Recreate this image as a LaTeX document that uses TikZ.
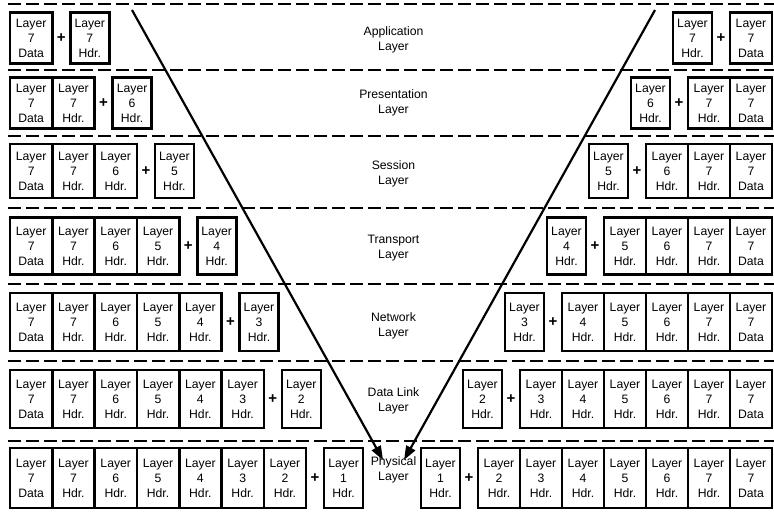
\documentclass[tikz,border=0pt]{standalone}
\usepackage{fontspec}
\setmainfont{Liberation Sans}
\usetikzlibrary{arrows.meta}
\begin{document}
\begin{tikzpicture}[x=1pt,y=-1pt,
  pdu/.style={draw, line width=2.6pt, inner sep=0pt, align=center,
    font=\fontsize{12.2}{15}\selectfont, minimum height=#1},
  plussign/.style={inner sep=0pt, font=\fontsize{15}{15}\selectfont\bfseries},
  layername/.style={align=center, inner sep=0pt, font=\fontsize{12.2}{15}\selectfont},
  sepline/.style={line width=2.5pt, dash pattern=on 13pt off 5pt},
  flow/.style={line width=2.2pt, -{Triangle[length=14pt,width=10pt]}}
]
\useasboundingbox (0,0) rectangle (774,515);

% one row per layer: centre y, box height, y of the dashed separator above
\foreach \r/\cy/\h/\dy in {1/38/51/4, 2/103/51/70, 3/171/54/136,
                           4/246/57/208, 5/322/58/284, 6/399/58/361, 7/478/60/441}{
  \coordinate (D\r-a) at (8,\dy);
  \coordinate (D\r-b) at (774,\dy);
  \draw[sepline] (D\r-a) -- (D\r-b);
  % stacked data unit on both sides
  \foreach \i in {1,...,\r}{
    \pgfmathtruncatemacro\n{9-\i}
    \ifnum\i=1 \def\num{7}\def\kind{Data}\else\edef\num{\n}\def\kind{Hdr.}\fi
    \node[pdu=\h, minimum width=42.3pt] (L\r-\i) at ({10+42.3*(\i-0.5)},\cy) {Layer\\\num\\\kind};
    \node[pdu=\h, minimum width=42pt] (R\r-\i) at ({772-42*(\i-0.5)},\cy) {Layer\\\num\\\kind};
  }
  % header added (left) or removed (right) at this layer
  \pgfmathtruncatemacro\m{8-\r}
  \node[plussign] (LP\r) at ({10+42.3*\r+9},\cy) {+};
  \node[pdu=\h, minimum width=39pt] (LN\r) at ({10+42.3*\r+37.5},\cy) {Layer\\\m\\Hdr.};
  \node[plussign] (RP\r) at ({772-42*\r-9},\cy) {+};
  \node[pdu=\h, minimum width=39pt] (RN\r) at ({772-42*\r-37.5},\cy) {Layer\\\m\\Hdr.};
}

% layer names in the middle column
\foreach \k/\y/\txt in {1/40/Application\\Layer, 2/103/Presentation\\Layer,
                        3/174/Session\\Layer, 4/248/Transport\\Layer,
                        5/326/Network\\Layer, 6/401/Data Link\\Layer,
                        7/470/Physical\\Layer}{
  \node[layername] (lab\k) at (393.5,\y) {\txt};
}

% data flow down the sender's stack and up the receiver's stack
\coordinate (ltop) at (132,10);
\coordinate (ltip) at (383,460);
\coordinate (rtop) at (655,10);
\coordinate (rtip) at (404,460);
\draw[flow] (ltop) -- (ltip);
\draw[flow] (rtop) -- (rtip);
\end{tikzpicture}
\end{document}
